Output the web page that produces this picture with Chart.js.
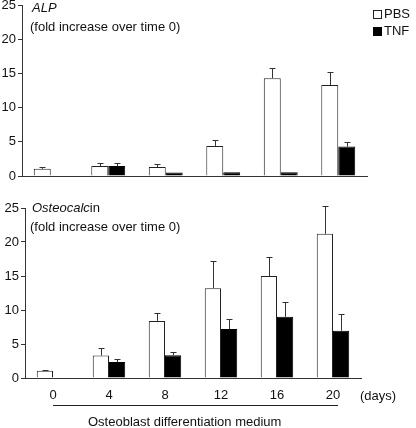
<!DOCTYPE html>
<html><head><meta charset="utf-8">
<script src="https://cdn.jsdelivr.net/npm/chart.js@4.4.1/dist/chart.umd.min.js"></script>
<style>
html,body{margin:0;padding:0;background:#fff;}
#wrap{position:relative;width:416px;height:428px;overflow:hidden;font-family:"Liberation Sans",Arial,sans-serif;color:#111;}
canvas{position:absolute;left:0;}
.t{position:absolute;font-size:13px;line-height:16px;white-space:nowrap;}
.sq{position:absolute;width:7px;height:7px;box-sizing:content-box;}
</style></head><body>
<div id="wrap">
<canvas id="c1" width="416" height="204" style="top:-12px"></canvas>
<canvas id="c2" width="416" height="236" style="top:192px"></canvas>
<div class="t" style="left:32px;top:0px;font-style:italic">ALP</div>
<div class="t" style="left:30px;top:19px">(fold increase over time 0)</div>
<div class="t" style="left:32px;top:200px"><i>Osteocalc</i>in</div>
<div class="t" style="left:30px;top:219px">(fold increase over time 0)</div>
<div class="sq" style="left:373px;top:10px;border:1px solid #222;background:#fff"></div>
<div class="t" style="left:384px;top:6px">PBS</div>
<div class="sq" style="left:373px;top:27px;border:1px solid #000;background:#000"></div>
<div class="t" style="left:384px;top:23px">TNF</div>
<div class="t" style="left:360px;top:388px">(days)</div>
<div class="t" style="left:88px;top:414px">Osteoblast differentiation medium</div>
</div>
<script>
// Categories (days)
const days = ['0','4','8','12','16','20'];
const seriesNames = ['PBS','TNF'];
const yTicks = [0,5,10,15,20,25];

// ALP (fold increase over time 0)
const alpPBS    = [1.05, 1.45, 1.3, 4.4, 14.3, 13.3];
const alpPBSErr = [0.3, 0.4, 0.4, 0.85, 1.45, 1.85];
const alpTNF    = [null, 1.45, 0.5, 0.55, 0.55, 4.3];
const alpTNFErr = [0, 0.4, 0, 0, 0, 0.6];

// Osteocalcin (fold increase over time 0)
const ocPBS    = [1.05, 3.3, 8.4, 13.2, 15.0, 21.2];
const ocPBSErr = [0.2, 1.05, 1.2, 3.95, 2.85, 4.1];
const ocTNF    = [null, 2.35, 3.35, 7.2, 9.0, 6.95];
const ocTNFErr = [0, 0.4, 0.5, 1.5, 2.2, 2.5];

const FONT = {family:'"Liberation Sans", Arial, sans-serif', size:13};
const AX = '#333';

const errorBars = {
  id:'errorBars',
  afterDatasetsDraw(chart){
    const ctx = chart.ctx, ys = chart.scales.y;
    chart.data.datasets.forEach((ds,i)=>{
      const meta = chart.getDatasetMeta(i);
      meta.data.forEach((bar,j)=>{
        const v = ds.data[j], e = ds.errors ? ds.errors[j] : 0;
        if(v==null || !e) return;
        const x = Math.round(bar.x)+0.5;
        const y0 = ys.getPixelForValue(v);
        const y1 = Math.round(ys.getPixelForValue(v+e))+0.5;
        ctx.save();
        ctx.strokeStyle = AX; ctx.lineWidth = 1;
        ctx.beginPath();
        ctx.moveTo(x,y0); ctx.lineTo(x,y1);
        ctx.moveTo(x-3,y1); ctx.lineTo(x+3,y1);
        ctx.stroke();
        ctx.restore();
      });
    });
  }
};

const bracket = {
  id:'bracket',
  afterDraw(chart, args, opts){
    if(!opts || !opts.show) return;
    const xs = chart.scales.x, ctx = chart.ctx;
    const x0 = xs.getPixelForValue(0), x1 = xs.getPixelForValue(days.length-1)+5;
    const y = opts.y + 0.5;
    ctx.save(); ctx.strokeStyle = '#222'; ctx.lineWidth = 1;
    ctx.beginPath(); ctx.moveTo(x0,y); ctx.lineTo(x1,y); ctx.stroke(); ctx.restore();
  }
};

function makeChart(id, pbs, pbsErr, tnf, tnfErr, cfg){
  return new Chart(document.getElementById(id), {
    type:'bar',
    data:{
      labels: days,
      datasets:[
        {label:seriesNames[0], data:pbs, errors:pbsErr, backgroundColor:'#fff', borderColor:'#222', borderWidth:1,
         categoryPercentage:cfg.cat, barPercentage:1},
        {label:seriesNames[1], data:tnf, errors:tnfErr, backgroundColor:'#000', borderColor:'#000', borderWidth:1,
         categoryPercentage:cfg.cat, barPercentage:1}
      ]
    },
    options:{
      responsive:false, animation:false, devicePixelRatio:1,
      layout:{padding:{top:cfg.top, right:cfg.right, left:0, bottom:0}},
      plugins:{legend:{display:false}, tooltip:{enabled:false}, bracket:cfg.bracket||{show:false}},
      scales:{
        x:{
          grid:{display:false, drawTicks:false},
          border:{display:true, color:AX, width:1},
          ticks:{display:cfg.xLabels, padding:10, font:FONT, color:'#111', maxRotation:0},
          afterFit(s){ s.height = cfg.xh; }
        },
        y:{
          min:0, max:25,
          afterBuildTicks(s){ s.ticks = yTicks.map(v=>({value:v})); },
          grid:{display:true, drawOnChartArea:false, drawTicks:true, tickLength:4, color:AX},
          border:{display:true, color:AX, width:1},
          ticks:{padding:2, font:FONT, color:'#111'},
          afterFit(s){ s.width = cfg.yw; }
        }
      }
    },
    plugins:[errorBars, bracket]
  });
}

makeChart('c1', alpPBS, alpPBSErr, alpTNF, alpTNFErr,
  {cat:0.59, top:17, right:49, yw:22, xh:204-188, xLabels:false});
makeChart('c2', ocPBS, ocPBSErr, ocTNF, ocTNFErr,
  {cat:0.58, top:16, right:55, yw:25, xh:236-186, xLabels:true, bracket:{show:true, y:213}});
</script>
</body></html>
